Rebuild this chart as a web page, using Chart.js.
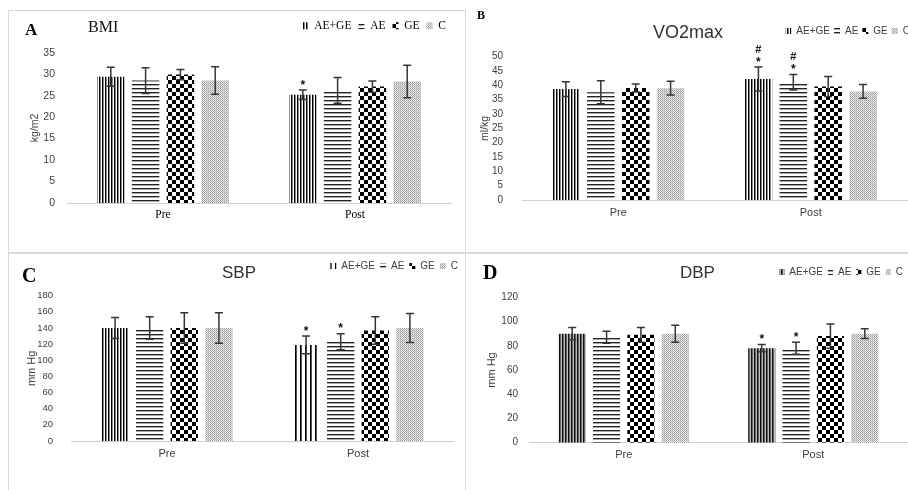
<!DOCTYPE html>
<html><head><meta charset="utf-8">
<script src="https://cdn.jsdelivr.net/npm/chart.js@4.4.1/dist/chart.umd.min.js"></script>
<style>
html,body{margin:0;padding:0;background:#fff;overflow:hidden;}
#page{position:relative;width:908px;height:490px;overflow:hidden;background:#fff;}
canvas{position:absolute;}
.t{position:absolute;white-space:nowrap;line-height:1.2;}
.ln{position:absolute;background:#d9d9d9;}
.serif{font-family:'Liberation Serif','Times New Roman',serif;}
.sans{font-family:'Liberation Sans',Arial,sans-serif;}
</style></head><body><div id="page">
<div class="ln" style="left:8px;top:10px;width:457px;height:1px"></div>
<div class="ln" style="left:8px;top:10px;width:1px;height:480px"></div>
<div class="ln" style="left:465px;top:10px;width:1px;height:480px"></div>
<div class="ln" style="left:8px;top:252px;width:900px;height:2px"></div>
<canvas id="cA" width="453" height="252" style="left:0px;top:0px"></canvas>
<canvas id="cB" width="448" height="252" style="left:466px;top:0px"></canvas>
<canvas id="cC" width="463" height="236" style="left:0px;top:254px"></canvas>
<canvas id="cD" width="442" height="236" style="left:466px;top:254px"></canvas>
<div class="t serif" style="left:25px;top:19.7px;font-size:17px;font-weight:bold;color:#000">A</div>
<div class="t serif" style="left:88px;top:17.3px;font-size:16px;color:#111">BMI</div>
<div class="t serif" style="left:477px;top:7.7px;font-size:12px;font-weight:bold;color:#000">B</div>
<div class="t sans" style="left:653px;top:21.6px;font-size:18px;color:#333">VO2max</div>
<div class="t serif" style="left:22px;top:262.9px;font-size:20px;font-weight:bold;color:#000">C</div>
<div class="t sans" style="left:222px;top:263.1px;font-size:17px;color:#333">SBP</div>
<div class="t serif" style="left:483px;top:259.9px;font-size:20px;font-weight:bold;color:#000">D</div>
<div class="t sans" style="left:680px;top:263.1px;font-size:17px;color:#333">DBP</div>
</div>
<script>
// ---- data ----
const groups = ['Pre', 'Post'];
const series = ['AE+GE', 'AE', 'GE', 'C'];

// BMI (kg/m2)
const bmiPre = [29.4, 28.5, 29.9, 28.5];
const bmiPreSd = [2.2, 3.0, 1.2, 3.2];
const bmiPost = [25.2, 26.2, 27.1, 28.3];
const bmiPostSd = [1.1, 3.0, 1.3, 3.8];
const bmiPostMarks = [['*'], [], [], []];
const bmiTicks = [0, 35, 5];

// VO2max (ml/kg)
const vo2Pre = [38.7, 37.6, 39.1, 39.0];
const vo2PreSd = [2.6, 4.0, 1.4, 2.4];
const vo2Post = [42.2, 41.1, 39.6, 37.9];
const vo2PostSd = [4.2, 2.7, 3.5, 2.4];
const vo2PostMarks = [['*', '#'], ['*', '#'], [], []];
const vo2Ticks = [0, 50, 5];

// SBP (mm Hg)
const sbpPre = [140, 140, 140, 140];
const sbpPreSd = [13, 14, 19, 19];
const sbpPost = [119, 123, 137, 140];
const sbpPostSd = [11, 10, 17, 18];
const sbpPostMarks = [['*'], ['*'], [], []];
const sbpTicks = [0, 180, 20];

// DBP (mm Hg)
const dbpPre = [90, 87, 89, 90];
const dbpPreSd = [5, 5, 6, 7];
const dbpPost = [78, 78, 88, 90];
const dbpPostSd = [3, 5, 10, 4];
const dbpPostMarks = [['*'], ['*'], [], []];
const dbpTicks = [0, 120, 20];

// ---- patterns ----
function makePattern(grid) {
  const c = document.createElement('canvas');
  c.width = grid[0].length; c.height = grid.length;
  const x = c.getContext('2d');
  grid.forEach((row, r) => row.forEach((col, k) => { x.fillStyle = col; x.fillRect(k, r, 1, 1); }));
  return x.createPattern(c, 'repeat');
}
function checker(n) {
  const c = document.createElement('canvas');
  c.width = 2 * n; c.height = 2 * n;
  const x = c.getContext('2d');
  x.fillStyle = '#fff'; x.fillRect(0, 0, 2 * n, 2 * n);
  x.fillStyle = '#000'; x.fillRect(0, 0, n, n); x.fillRect(n, n, n, n);
  return x.createPattern(c, 'repeat');
}
const vertDense = makePattern([['#000', '#8a8a8a', '#fff']]);
const vertDark = makePattern([['#111', '#666', '#bbb']]);
const vertSparse = makePattern([['#000', '#555', '#fff', '#fff', '#fff']]);
const horiz = makePattern([['#222'], ['#aaa'], ['#fff'], ['#fff']]);
const checks = checker(4);
const dots = makePattern([['#9a9a9a', '#f0f0f0'], ['#e0e0e0', '#b5b5b5']]);

const SERIF = "'Liberation Serif','Times New Roman',serif";
const SANS = "'Liberation Sans',Arial,sans-serif";

const errorBars = {
  id: 'errorBars',
  afterDatasetsDraw(chart) {
    const ctx = chart.ctx, ys = chart.scales.y;
    ctx.save();
    chart.data.datasets.forEach((ds, di) => {
      const meta = chart.getDatasetMeta(di);
      meta.data.forEach((bar, i) => {
        const v = ds.data[i], sd = ds.sd[i];
        const yt = ys.getPixelForValue(v + sd), yb = ys.getPixelForValue(v - sd);
        ctx.strokeStyle = '#363636'; ctx.lineWidth = 1.5;
        ctx.beginPath();
        ctx.moveTo(bar.x, yt); ctx.lineTo(bar.x, yb);
        ctx.moveTo(bar.x - 4, yt); ctx.lineTo(bar.x + 4, yt);
        ctx.moveTo(bar.x - 4, yb); ctx.lineTo(bar.x + 4, yb);
        ctx.stroke();
        const marks = ds.marks[i];
        ctx.fillStyle = '#111'; ctx.textAlign = 'center'; ctx.textBaseline = 'alphabetic';
        marks.forEach((m, k) => {
          if (m === '*') { ctx.font = 'bold 12px ' + SANS; ctx.fillText('*', bar.x, yt - 1.2 - k * 10); }
          else { ctx.font = 'bold 11px ' + SANS; ctx.fillText(m, bar.x, yt - 4 - k * 10); }
        });
      });
    });
    ctx.restore();
  }
};

function build(id, o) {
  const datasets = series.map((name, i) => ({
    label: name,
    data: [o.pre[i], o.post[i]],
    sd: [o.preSd[i], o.postSd[i]],
    marks: [[], o.postMarks[i]],
    backgroundColor: o.fills[i],
    borderWidth: 0,
    categoryPercentage: 0.725,
    barPercentage: 0.79
  }));
  return new Chart(document.getElementById(id), {
    type: 'bar',
    data: { labels: groups, datasets },
    options: {
      responsive: false, animation: false, devicePixelRatio: 1,
      layout: { padding: { top: o.padTop, left: 0, right: 0, bottom: 0 } },
      plugins: {
        tooltip: { enabled: false },
        title: { display: false },
        // empty spacer between legend and plot area
        subtitle: { display: true, text: '', position: 'top', weight: 500, font: { size: 1 }, padding: { top: o.gap - 1.2, bottom: 0 } },
        legend: {
          position: 'top', align: 'end',
          labels: {
            font: o.legendFont, color: o.legendColor,
            boxWidth: o.boxW, boxHeight: o.boxH, padding: o.legPad,
            generateLabels: () => series.map((s, i) => ({
              text: s, fillStyle: o.legendFills[i], strokeStyle: 'rgba(0,0,0,0)',
              lineWidth: 0, hidden: false, datasetIndex: i, fontColor: o.legendColor
            }))
          }
        }
      },
      scales: {
        x: {
          grid: { display: false, drawTicks: false },
          border: { display: true, color: '#d0d0d0', width: 1 },
          ticks: { font: o.xFont, color: o.xColor, padding: o.xPad },
          afterFit(s) { s.height = o.xH; s.paddingRight = o.xPadR; s.paddingLeft = 0; }
        },
        y: {
          min: o.ticks[0], max: o.ticks[1],
          ticks: { stepSize: o.ticks[2], autoSkip: false, font: { family: SANS, size: o.yFontSize }, color: '#404040', padding: o.yPad },
          grid: { display: false, drawTicks: false },
          border: { display: false },
          title: { display: true, text: o.yTitle, font: { family: SANS, size: o.yTitleSize }, color: '#404040', padding: { top: o.yTitlePad, bottom: 0 } },
          afterFit(s) { s.width = o.yW; }
        }
      }
    },
    plugins: [errorBars]
  });
}

build('cA', {
  pre: bmiPre, preSd: bmiPreSd, post: bmiPost, postSd: bmiPostSd, postMarks: bmiPostMarks, ticks: bmiTicks,
  fills: [vertDense, horiz, checks, dots], legendFills: [vertDense, horiz, checks, dots],
  padTop: 13.1, gap: 11.1, legendFont: { family: SERIF, size: 11.5 }, legendColor: '#000', boxW: 6, boxH: 7, legPad: 7,
  xFont: { family: SERIF, size: 11.5 }, xColor: '#000', xPad: 5, xH: 49, xPadR: 2,
  yFontSize: 10.5, yPad: 12, yTitle: 'kg/m2', yTitleSize: 10.5, yTitlePad: 28.7, yW: 67
});
build('cB', {
  pre: vo2Pre, preSd: vo2PreSd, post: vo2Post, postSd: vo2PostSd, postMarks: vo2PostMarks, ticks: vo2Ticks,
  fills: [vertDense, horiz, checks, dots], legendFills: [vertDense, horiz, checks, dots],
  padTop: 22, gap: 10.7, legendFont: { family: SANS, size: 10 }, legendColor: '#404040', boxW: 6, boxH: 6, legPad: 4,
  xFont: { family: SANS, size: 11 }, xColor: '#404040', xPad: 6, xH: 52, xPadR: 7,
  yFontSize: 10, yPad: 19, yTitle: 'ml/kg', yTitleSize: 10.5, yTitlePad: 12.7, yW: 56
});
build('cC', {
  pre: sbpPre, preSd: sbpPreSd, post: sbpPost, postSd: sbpPostSd, postMarks: sbpPostMarks, ticks: sbpTicks,
  fills: [[vertDense, vertSparse], horiz, checks, dots], legendFills: [vertSparse, horiz, checks, dots],
  padTop: 2, gap: 14.7, legendFont: { family: SANS, size: 10 }, legendColor: '#404040', boxW: 6, boxH: 6, legPad: 5,
  xFont: { family: SANS, size: 11 }, xColor: '#404040', xPad: 6, xH: 49, xPadR: 9.5,
  yFontSize: 9.5, yPad: 18.5, yTitle: 'mm Hg', yTitleSize: 11, yTitlePad: 25.4, yW: 71.5
});
build('cD', {
  pre: dbpPre, preSd: dbpPreSd, post: dbpPost, postSd: dbpPostSd, postMarks: dbpPostMarks, ticks: dbpTicks,
  fills: [vertDark, horiz, checks, dots], legendFills: [vertDark, horiz, checks, dots],
  padTop: 8, gap: 10.3, legendFont: { family: SANS, size: 10 }, legendColor: '#404040', boxW: 5, boxH: 6, legPad: 5,
  xFont: { family: SANS, size: 11 }, xColor: '#404040', xPad: 6, xH: 47.3, xPadR: 0,
  yFontSize: 10, yPad: 11, yTitle: 'mm Hg', yTitleSize: 11, yTitlePad: 19.4, yW: 63
});
</script>
</body></html>
